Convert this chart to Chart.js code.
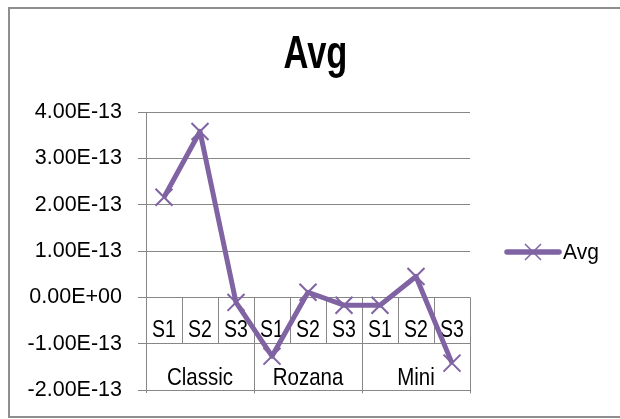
<!DOCTYPE html>
<html>
<head>
<meta charset="utf-8">
<script src="https://cdn.jsdelivr.net/npm/chart.js@4/dist/chart.umd.min.js"></script>
<style>
body{margin:0;background:#fff;}
canvas{display:block;}
</style>
</head>
<body>
<canvas id="avgChart" width="620" height="419"></canvas>
<script>

let groups = ["Classic","Rozana","Mini"];
let subLabels = ["S1","S2","S3"];
let avgValues = [2.16e-13, 3.58e-13, -0.11e-13, -1.27e-13, 0.11e-13, -0.17e-13, -0.17e-13, 0.45e-13, -1.42e-13];
let yTicks = [-2e-13, -1e-13, 0, 1e-13, 2e-13, 3e-13, 4e-13];

let labels = [];
groups.forEach(g=>{
subLabels.forEach(s=>{
labels.push(g+" "+s);
});
});

let purple = "#7f63a2";
let grey = "#878787";

// Excel style numbers: 4.00E-13, 0.00E+00
function sciLabel(v){
if(Math.abs(v) < 1e-20) v = 0;
let parts = v.toExponential(2).split("e");
let sign = parts[1][0] == "-" ? "-" : "+";
let exp = parts[1].replace(/[+-]/,"");
if(exp.length < 2) exp = "0"+exp;
return parts[0]+"E"+sign+exp;
}

function stretchedText(ctx, text, x, y, sx, sy){
ctx.save();
ctx.translate(x, y);
ctx.scale(sx, sy);
ctx.fillText(text, 0, 0);
ctx.restore();
}

/* -------- frame, title, category boxes, legend -------- */

let excelParts = {
id:"excelParts",

beforeDraw(chart){
let ctx = chart.ctx;
ctx.save();
ctx.strokeStyle = "#8e8e8e";
ctx.lineWidth = 2;
ctx.strokeRect(9, 8, 700, 409);
ctx.restore();
},

beforeDatasetsDraw(chart){
let ctx = chart.ctx;
let x = chart.scales.x;
let y = chart.scales.y;
let area = chart.chartArea;
let y0 = y.getPixelForValue(0);
let rowH = 46;
let n = labels.length;
let step = (area.right - area.left) / n;

ctx.save();
ctx.strokeStyle = grey;
ctx.lineWidth = 1;
ctx.beginPath();
for(let i=1;i<=n;i++){
let bx = Math.round(area.left + i*step) + 0.5;
if(i % subLabels.length == 0){
ctx.moveTo(bx, y0);
ctx.lineTo(bx, y0 + rowH*2 + 4);
}else{
ctx.moveTo(bx, y0);
ctx.lineTo(bx, y0 + rowH);
}
}
ctx.moveTo(area.left + 0.5, area.bottom);
ctx.lineTo(area.left + 0.5, area.bottom + 3);
ctx.stroke();

ctx.fillStyle = "#000";
ctx.textAlign = "center";
ctx.textBaseline = "middle";
ctx.font = "19.5px 'Liberation Sans', Arial, sans-serif";
labels.forEach((lab,i)=>{
let cx = x.getPixelForValue(i);
stretchedText(ctx, subLabels[i % subLabels.length], cx, y0 + 33, 1, 1.25);
});

ctx.font = "20.5px 'Liberation Sans', Arial, sans-serif";
groups.forEach((g,gi)=>{
let first = x.getPixelForValue(gi*subLabels.length);
let last = x.getPixelForValue(gi*subLabels.length + subLabels.length - 1);
stretchedText(ctx, g, (first+last)/2, y0 + 80.5, 1, 1.2);
});
ctx.restore();
},

afterDraw(chart){
let ctx = chart.ctx;
let area = chart.chartArea;

// title
ctx.save();
ctx.fillStyle = "#000";
ctx.textAlign = "center";
ctx.textBaseline = "alphabetic";
ctx.font = "bold 46px 'Liberation Sans', Arial, sans-serif";
stretchedText(ctx, "Avg", 315.5, 68, 0.75, 1);
ctx.restore();

// legend
let ly = (area.top + area.bottom)/2 + 1;
let lx1 = area.right + 37;
let lx2 = area.right + 89;
let mx = (lx1 + lx2)/2;
ctx.save();
ctx.strokeStyle = purple;
ctx.lineCap = "round";
ctx.lineWidth = 5.5;
ctx.beginPath();
ctx.moveTo(lx1, ly);
ctx.lineTo(lx2, ly);
ctx.stroke();
ctx.lineWidth = 1.5;
ctx.lineCap = "butt";
ctx.beginPath();
ctx.moveTo(mx-8, ly-8);
ctx.lineTo(mx+8, ly+8);
ctx.moveTo(mx+8, ly-8);
ctx.lineTo(mx-8, ly+8);
ctx.stroke();
ctx.fillStyle = "#000";
ctx.textAlign = "left";
ctx.textBaseline = "middle";
ctx.font = "21px 'Liberation Sans', Arial, sans-serif";
stretchedText(ctx, "Avg", lx2 + 4, ly + 1, 1, 1.08);
ctx.restore();
}
};

/* ------------------------------------- */

new Chart(document.getElementById("avgChart"),{

type:"line",

data:{
labels:labels,
datasets:[{
label:"Avg",
data:avgValues,
borderColor:purple,
borderWidth:5,
borderJoinStyle:"round",
tension:0,
pointStyle:"crossRot",
pointRadius:12,
pointBorderWidth:2,
pointBorderColor:purple,
pointBackgroundColor:purple
}]
},

options:{
responsive:false,
animation:false,
layout:{
padding:{left:0, top:112, right:150, bottom:29}
},
plugins:{
legend:{display:false},
title:{display:false},
tooltip:{enabled:false}
},
scales:{
x:{
display:false,
offset:true
},
y:{
min:-2e-13,
max:4e-13,
afterBuildTicks(scale){
scale.ticks = yTicks.map(v=>({value:v}));
},
afterFit(scale){
scale.width = 146;
},
grid:{
color:grey,
lineWidth:1,
tickLength:8
},
border:{
color:grey,
width:1
},
ticks:{
padding:16,
color:"#000",
font:{family:"'Liberation Sans', Arial, sans-serif", size:21.5},
callback:(v)=>sciLabel(v)
}
}
}
},

plugins:[excelParts]

});

</script>
</body>
</html>
